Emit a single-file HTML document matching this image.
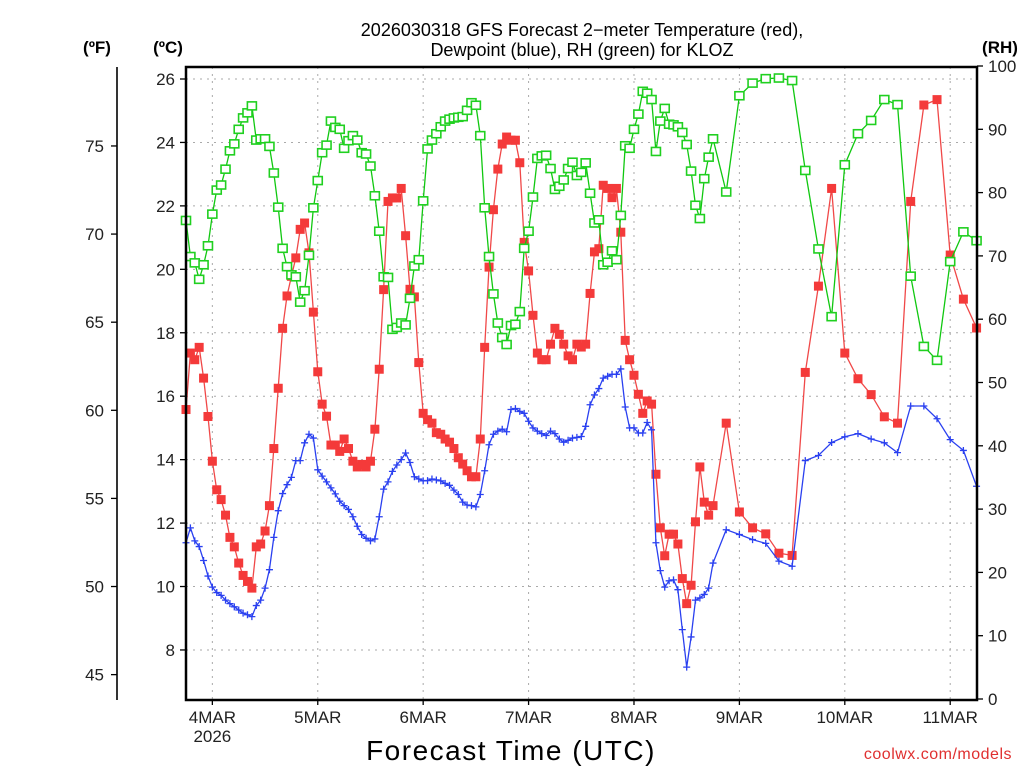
<!DOCTYPE html>
<html><head><meta charset="utf-8">
<style>
html,body{margin:0;padding:0;background:#fff;}
svg{display:block;font-family:"Liberation Sans",sans-serif;}
</style></head>
<body>
<svg id="chart" width="1024" height="768" viewBox="0 0 1024 768" xmlns="http://www.w3.org/2000/svg">
<rect x="0" y="0" width="1024" height="768" fill="#fff"/>
<g id="grid"></g>
<g id="series"></g>
<g id="axes"></g>
<text x="582" y="36" text-anchor="middle" font-size="18" fill="#000">2026030318 GFS Forecast 2−meter Temperature (red),</text>
<text x="582" y="56" text-anchor="middle" font-size="18" fill="#000">Dewpoint (blue), RH (green) for KLOZ</text>
<text x="97" y="53" text-anchor="middle" font-size="17" font-weight="bold" fill="#000">(ºF)</text>
<text x="168" y="53" text-anchor="middle" font-size="17" font-weight="bold" fill="#000">(ºC)</text>
<text x="1000" y="53" text-anchor="middle" font-size="17" font-weight="bold" fill="#000">(RH)</text>
<text x="511" y="760" text-anchor="middle" font-size="28" fill="#000" letter-spacing="1.5">Forecast Time (UTC)</text>
<text x="1012" y="759" text-anchor="end" font-size="16" fill="#e03030" letter-spacing="0.5">coolwx.com/models</text>
</svg>
<script>
const hours = [0,1,2,3,4,5,6,7,8,9,10,11,12,13,14,15,16,17,18,19,20,21,22,23,24,25,26,27,28,29,30,31,32,33,34,35,36,37,38,39,40,41,42,43,44,45,46,47,48,49,50,51,52,53,54,55,56,57,58,59,60,61,62,63,64,65,66,67,68,69,70,71,72,73,74,75,76,77,78,79,80,81,82,83,84,85,86,87,88,89,90,91,92,93,94,95,96,97,98,99,100,101,102,103,104,105,106,107,108,109,110,111,112,113,114,115,116,117,118,119,120,123,126,129,132,135,138,141,144,147,150,153,156,159,162,165,168,171,174,177,180];
const tempC = [15.58,17.36,17.15,17.54,16.57,15.36,13.95,13.05,12.74,12.25,
11.55,11.25,10.74,10.35,10.16,9.95,11.25,11.34,11.75,12.55,
14.35,16.25,18.14,19.16,19.78,20.36,21.26,21.46,20.52,18.65,
16.77,15.75,15.37,14.46,14.46,14.26,14.65,14.35,13.95,13.77,
13.85,13.77,13.95,14.96,16.85,19.36,22.14,22.25,22.25,22.55,
21.06,19.37,19.13,17.06,15.46,15.26,15.15,14.85,14.8,14.65,
14.55,14.35,14.06,13.86,13.65,13.46,13.46,14.65,17.54,20.07,
21.88,23.16,23.95,24.17,24.07,24.07,23.36,20.85,19.95,18.55,
17.36,17.15,17.15,17.64,18.14,17.95,17.64,17.27,17.15,17.64,
17.55,17.64,19.24,20.55,20.65,22.65,22.55,22.26,22.55,21.17,
17.76,17.15,16.66,16.06,15.46,15.85,15.75,13.54,11.85,10.97,
11.65,11.65,11.34,10.25,9.46,10.04,12.04,13.77,12.66,12.25,
12.55,15.15,12.35,11.85,11.66,11.05,10.98,16.75,19.47,22.55,17.36,16.55,16.05,15.35,15.15,22.14,25.18,25.35,20.45,19.06,18.15];
const rhPct = [75.6,69.9,68.9,66.3,68.6,71.6,76.6,80.4,81.2,83.7,
86.6,87.7,90.0,91.8,92.6,93.7,88.3,88.5,88.5,87.3,
83.1,77.7,71.2,68.3,67.0,66.7,62.7,64.5,70.1,77.6,
81.9,86.3,87.5,91.3,90.3,90.0,87.0,88.2,89.0,88.3,
86.3,86.1,84.2,79.5,73.9,66.7,66.6,58.4,58.7,59.4,
59.1,63.3,68.4,69.4,78.7,86.9,88.3,89.3,90.4,91.3,
91.6,91.8,91.9,92.0,93.0,94.2,93.8,89.0,77.6,69.9,
64.0,59.4,57.1,56.0,59.0,59.2,61.2,71.2,73.9,79.3,
85.4,85.8,85.9,83.8,80.5,81.0,82.0,83.8,84.8,82.7,
83.2,84.7,79.9,75.2,75.7,68.6,69.0,70.8,69.4,76.4,
87.4,87.0,90.0,92.4,96.0,95.7,94.7,86.5,91.3,93.3,
90.8,90.7,90.4,89.5,87.6,83.4,78.0,75.9,82.2,85.6,
88.5,80.1,95.3,97.3,98.0,98.1,97.7,83.5,71.1,60.4,84.4,89.3,91.4,94.7,93.9,66.8,55.7,53.5,69.1,73.8,72.4];
const dewC = [11.38,11.85,11.44,11.26,10.82,10.33,9.98,9.81,9.72,9.57,
9.46,9.36,9.26,9.16,9.11,9.05,9.40,9.57,9.95,10.53,
11.55,12.39,12.93,13.21,13.44,13.97,13.97,14.53,14.80,14.68,
13.68,13.48,13.30,13.11,12.92,12.69,12.55,12.43,12.20,11.90,
11.64,11.52,11.44,11.50,12.20,13.07,13.30,13.63,13.83,14.00,
14.21,13.91,13.46,13.39,13.33,13.34,13.39,13.36,13.33,13.25,
13.19,13.04,12.90,12.66,12.57,12.55,12.51,12.90,13.65,14.47,
14.80,14.90,14.96,14.88,15.58,15.61,15.52,15.46,15.21,15.00,
14.90,14.82,14.76,14.90,14.82,14.65,14.55,14.61,14.68,14.70,
14.73,15.05,15.73,16.04,16.24,16.57,16.63,16.69,16.69,16.86,
15.66,15.00,15.00,14.84,14.84,15.17,14.94,11.38,10.50,9.98,
10.18,10.21,9.90,8.64,7.46,8.41,9.57,9.64,9.75,9.95,
10.74,11.79,11.64,11.48,11.36,10.80,10.64,13.97,14.13,14.54,14.72,14.82,14.65,14.53,14.22,15.69,15.69,15.29,14.63,14.29,13.16];
const celsiusTicks = [8,10,12,14,16,18,20,22,24,26];
const fahrenheitTicks = [45,50,55,60,65,70,75];
const rhTicks = [0,10,20,30,40,50,60,70,80,90,100];
const dayHours = [6,30,54,78,102,126,150,174];
const dayLabels = ["4MAR","5MAR","6MAR","7MAR","8MAR","9MAR","10MAR","11MAR"];

const NS = "http://www.w3.org/2000/svg";
const L = 186, R = 977, T = 67, B = 700;
function xH(h){ return L + h * 4.392; }
function yC(c){ return 79 + (26 - c) * 31.72; }
function yF(f){ return yC((f - 32) * 5 / 9); }
function yRH(r){ return 699 - r * 6.33; }
function mk(tag, attrs, parent){
  const e = document.createElementNS(NS, tag);
  for (const k in attrs) e.setAttribute(k, attrs[k]);
  parent.appendChild(e); return e;
}
const grid = document.getElementById('grid');
const series = document.getElementById('series');
const axes = document.getElementById('axes');

// grid
celsiusTicks.forEach(c => {
  const l = mk('line', {x1:L, x2:R, y1:yC(c), y2:yC(c), stroke:'#aaa', 'stroke-width':1, 'stroke-dasharray':'2,5'}, grid);
  
  
});
dayHours.forEach(h => {
  const l = mk('line', {x1:xH(h), x2:xH(h), y1:T, y2:B, stroke:'#aaa', 'stroke-width':1, 'stroke-dasharray':'2,5'}, grid);
  
  
});

// series
function drawLine(vals, yfn, color, name){
  const pts = hours.map((h,i) => xH(h).toFixed(1) + ',' + yfn(vals[i]).toFixed(1)).join(' ');
  const p = mk('polyline', {points:pts, fill:'none', stroke:color, 'stroke-width':1.3}, series);
  
  
}
drawLine(tempC, yC, '#f04848', 'temperature-line');
hours.forEach((h,i) => {
  const r = mk('rect', {x:xH(h)-4.5, y:yC(tempC[i])-4.5, width:9, height:9, fill:'#f43a3a'}, series);
  
  
});
drawLine(rhPct, yRH, '#10c810', 'rh-line');
hours.forEach((h,i) => {
  const r = mk('rect', {x:xH(h)-4.5, y:yRH(rhPct[i])-4, width:9, height:8, fill:'#fff', stroke:'#20d020', 'stroke-width':1.6}, series);
  
  
});
drawLine(dewC, yC, '#2a40f0', 'dewpoint-line');
hours.forEach((h,i) => {
  const x = xH(h), y = yC(dewC[i]);
  const p = mk('path', {d:`M${x-3.5},${y}H${x+3.5}M${x},${y-3.5}V${y+3.5}`, stroke:'#2a40f0', 'stroke-width':1.3, fill:'none'}, series);
  
  
});

// frame
const fr = mk('rect', {x:L, y:T, width:R-L, height:B-T, fill:'none', stroke:'#000', 'stroke-width':2.5}, axes);



// celsius axis
celsiusTicks.forEach(c => {
  const t = mk('line', {x1:L-6, x2:L, y1:yC(c), y2:yC(c), stroke:'#000', 'stroke-width':1.3}, axes);
  
  
  const tx = mk('text', {x:L-11, y:yC(c)+6, 'text-anchor':'end', 'font-size':17, fill:'#222'}, axes);
  tx.textContent = c;
  
  
});
// fahrenheit axis
const fl = mk('line', {x1:117, x2:117, y1:T, y2:B, stroke:'#000', 'stroke-width':1.6}, axes);


fahrenheitTicks.forEach(f => {
  const t = mk('line', {x1:111, x2:117, y1:yF(f), y2:yF(f), stroke:'#000', 'stroke-width':1.3}, axes);
  
  
  const tx = mk('text', {x:104, y:yF(f)+6, 'text-anchor':'end', 'font-size':17, fill:'#222'}, axes);
  tx.textContent = f;
  
  
});
// RH axis
rhTicks.forEach(r => {
  const t = mk('line', {x1:R, x2:R+6, y1:yRH(r), y2:yRH(r), stroke:'#000', 'stroke-width':1.3}, axes);
  
  
  const tx = mk('text', {x:R+11, y:yRH(r)+6, 'text-anchor':'start', 'font-size':17, fill:'#222'}, axes);
  tx.textContent = r;
  
  
});
// x axis
dayHours.forEach((h,i) => {
  const t = mk('line', {x1:xH(h), x2:xH(h), y1:B, y2:B+5, stroke:'#000', 'stroke-width':1.3}, axes);
  
  
  const tx = mk('text', {x:xH(h), y:723, 'text-anchor':'middle', 'font-size':17, fill:'#222'}, axes);
  tx.textContent = dayLabels[i];
  
  
});
const yr = mk('text', {x:xH(dayHours[0]), y:742, 'text-anchor':'middle', 'font-size':17, fill:'#222'}, axes);
yr.textContent = '2026';


</script>
</body></html>
